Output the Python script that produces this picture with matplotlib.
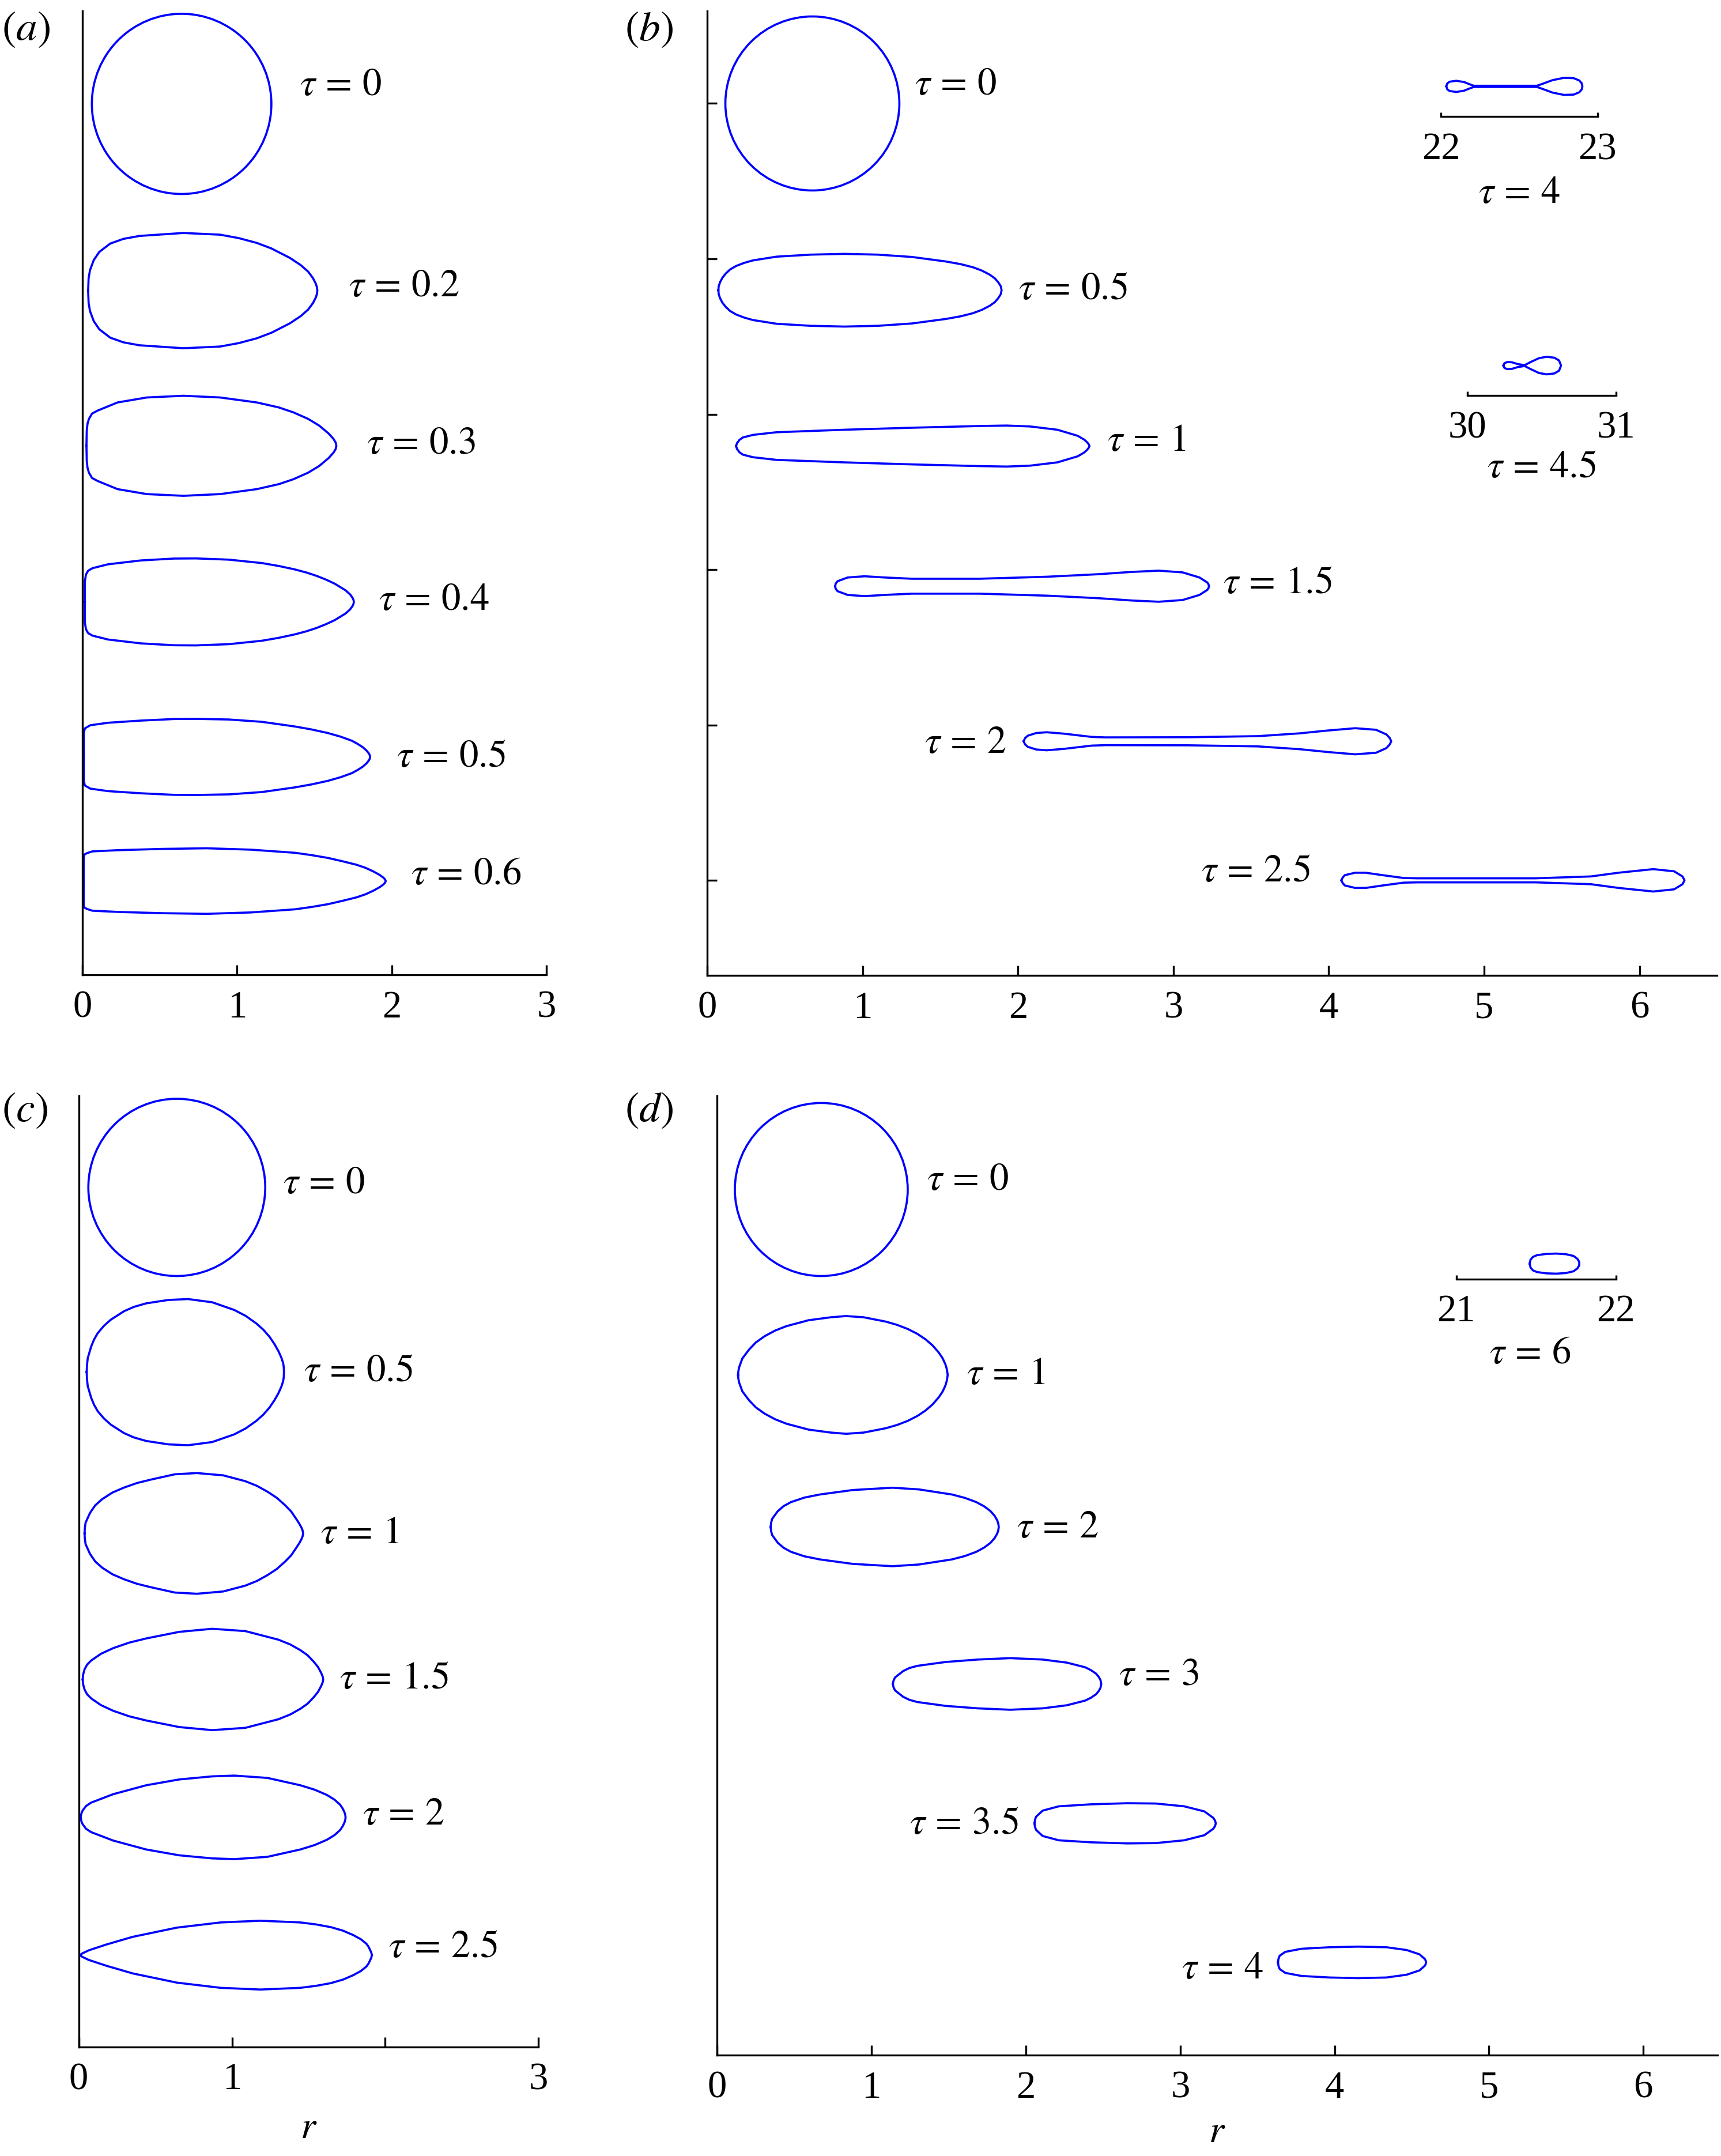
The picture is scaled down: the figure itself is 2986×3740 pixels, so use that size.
import numpy as np
import matplotlib
matplotlib.use("Agg")
import matplotlib.pyplot as plt
from matplotlib.patches import Circle

plt.rcParams['font.family'] = ['Liberation Serif', 'DejaVu Serif']
plt.rcParams['mathtext.fontset'] = 'stix'
plt.rcParams['font.size'] = 20

# ---- data: upper half of each drop outline (r, half-width) ----
# panel (a)
A_TAU = ["0", "0.2", "0.3", "0.4", "0.5", "0.6"]
A_CIRCLE = [0.641, 5.597, 0.580]          # r centre, z centre, radius (tau = 0)
A_ZC = [4.395, 3.396, 2.391, 1.393, 0.594]
A_R = [
    [0.037, 0.040, 0.049, 0.073, 0.109, 0.180, 0.265, 0.369, 0.653, 0.890, 1.010, 1.127, 1.222, 1.340, 1.411, 1.459, 1.490, 1.508, 1.516, 1.518],
    [0.026, 0.028, 0.033, 0.042, 0.062, 0.097, 0.227, 0.416, 0.653, 0.890, 1.127, 1.269, 1.364, 1.459, 1.530, 1.590, 1.622, 1.637, 1.641],
    [0.016, 0.016, 0.023, 0.037, 0.065, 0.165, 0.378, 0.591, 0.733, 0.947, 1.160, 1.270, 1.373, 1.448, 1.515, 1.575, 1.629, 1.700, 1.730, 1.746, 1.752, 1.754],
    [0.009, 0.009, 0.016, 0.051, 0.165, 0.378, 0.591, 0.733, 0.947, 1.160, 1.373, 1.480, 1.586, 1.670, 1.742, 1.780, 1.810, 1.835, 1.850, 1.857, 1.859],
    [0.008, 0.008, 0.012, 0.030, 0.065, 0.236, 0.520, 0.804, 1.089, 1.373, 1.480, 1.586, 1.682, 1.771, 1.830, 1.880, 1.920, 1.945, 1.956, 1.960],
]
A_H = [
    [0.0, 0.079, 0.132, 0.196, 0.249, 0.303, 0.333, 0.352, 0.371, 0.360, 0.338, 0.307, 0.271, 0.211, 0.164, 0.122, 0.080, 0.045, 0.020, 0.0],
    [0.0, 0.098, 0.142, 0.173, 0.207, 0.226, 0.279, 0.311, 0.322, 0.311, 0.279, 0.247, 0.215, 0.173, 0.130, 0.080, 0.045, 0.020, 0.0],
    [0.0, 0.134, 0.176, 0.201, 0.217, 0.242, 0.267, 0.279, 0.280, 0.272, 0.250, 0.231, 0.209, 0.189, 0.167, 0.143, 0.118, 0.075, 0.048, 0.026, 0.012, 0.0],
    [0.0, 0.154, 0.184, 0.204, 0.220, 0.234, 0.244, 0.245, 0.241, 0.226, 0.196, 0.177, 0.154, 0.130, 0.104, 0.083, 0.064, 0.042, 0.024, 0.011, 0.0],
    [0.0, 0.150, 0.170, 0.180, 0.191, 0.199, 0.207, 0.211, 0.202, 0.182, 0.167, 0.149, 0.127, 0.105, 0.085, 0.062, 0.040, 0.022, 0.010, 0.0],
]
A_LAB_R = [1.406, 1.719, 1.838, 1.913, 2.029, 2.122]
A_LAB_Z = [5.715, 4.421, 3.408, 2.400, 1.390, 0.633]

# panel (b)
B_TAU = ["0", "0.5", "1", "1.5", "2", "2.5"]
B_CIRCLE = [0.676, 5.0, 0.560]
B_ZC = [3.798, 2.795, 1.893, 0.895, 0.0]
B_R = [
    [0.071, 0.073, 0.082, 0.098, 0.119, 0.147, 0.185, 0.237, 0.294, 0.446, 0.664, 0.882, 1.099, 1.317, 1.535, 1.630, 1.709, 1.768, 1.818, 1.850, 1.872, 1.889, 1.894],
    [0.185, 0.191, 0.207, 0.228, 0.294, 0.446, 0.881, 1.317, 1.752, 1.927, 2.079, 2.253, 2.384, 2.425, 2.445, 2.455, 2.460],
    [0.823, 0.826, 0.838, 0.903, 1.012, 1.143, 1.317, 1.752, 2.188, 2.514, 2.732, 2.906, 3.059, 3.168, 3.218, 3.226, 3.229],
    [2.036, 2.045, 2.063, 2.117, 2.184, 2.295, 2.474, 2.563, 3.099, 3.545, 3.813, 3.991, 4.170, 4.304, 4.371, 4.393, 4.402],
    [4.081, 4.090, 4.103, 4.170, 4.237, 4.348, 4.482, 4.572, 5.330, 5.687, 5.866, 6.089, 6.223, 6.277, 6.290],
]
B_H = [
    [0.0, 0.025, 0.052, 0.082, 0.108, 0.134, 0.156, 0.176, 0.192, 0.216, 0.229, 0.234, 0.229, 0.214, 0.185, 0.168, 0.148, 0.126, 0.100, 0.077, 0.052, 0.025, 0.0],
    [0.0, 0.019, 0.040, 0.055, 0.072, 0.089, 0.105, 0.118, 0.129, 0.132, 0.126, 0.105, 0.066, 0.042, 0.024, 0.011, 0.0],
    [0.0, 0.016, 0.032, 0.056, 0.064, 0.056, 0.048, 0.048, 0.061, 0.077, 0.092, 0.100, 0.089, 0.056, 0.024, 0.012, 0.0],
    [0.0, 0.020, 0.036, 0.053, 0.058, 0.049, 0.028, 0.025, 0.026, 0.033, 0.051, 0.069, 0.084, 0.074, 0.044, 0.020, 0.0],
    [0.0, 0.018, 0.033, 0.049, 0.049, 0.033, 0.015, 0.013, 0.013, 0.025, 0.049, 0.072, 0.058, 0.025, 0.0],
]
B_LAB_R = [1.335, 2.003, 2.575, 3.320, 1.925, 3.880]
B_LAB_Z = [5.117, 3.802, 2.827, 1.910, 0.881, 0.053]
B_LAB_HA = ["left", "left", "left", "left", "right", "right"]

# panel (b) insets: late times, far along r
B_INSET_TAU = ["4", "4.5"]
B_INSET_XLIM = [(22, 23), (30, 31)]
B_INSET_ZC = [0.195, 0.202]
B_INSET_R = [
    [22.034, 22.040, 22.055, 22.098, 22.147, 22.184, 22.209, 22.613, 22.650, 22.712, 22.785, 22.847, 22.883, 22.899, 22.903],
    [30.243, 30.250, 30.269, 30.301, 30.340, 30.386, 30.431, 30.483, 30.534, 30.586, 30.618, 30.631],
]
B_INSET_H = [
    [0.0, 0.019, 0.030, 0.036, 0.028, 0.013, 0.004, 0.004, 0.017, 0.040, 0.055, 0.053, 0.038, 0.019, 0.0],
    [0.0, 0.016, 0.024, 0.022, 0.010, 0.003, 0.026, 0.050, 0.059, 0.053, 0.034, 0.0],
]

# panel (c)
C_TAU = ["0", "0.5", "1", "1.5", "2", "2.5"]
C_CIRCLE = [0.640, 5.596, 0.577]
C_ZC = [4.393, 3.343, 2.392, 1.494, 0.597]
C_R = [
    [0.052, 0.054, 0.059, 0.081, 0.100, 0.124, 0.165, 0.210, 0.296, 0.360, 0.440, 0.584, 0.713, 0.871, 1.015, 1.090, 1.159, 1.205, 1.245, 1.277, 1.303, 1.322, 1.334, 1.338, 1.339],
    [0.038, 0.040, 0.045, 0.074, 0.108, 0.153, 0.220, 0.297, 0.380, 0.469, 0.627, 0.771, 0.943, 1.087, 1.162, 1.231, 1.292, 1.346, 1.386, 1.418, 1.440, 1.454, 1.461, 1.464],
    [0.026, 0.029, 0.038, 0.055, 0.081, 0.145, 0.225, 0.330, 0.440, 0.656, 0.871, 1.087, 1.303, 1.380, 1.446, 1.494, 1.533, 1.562, 1.583, 1.592, 1.595],
    [0.013, 0.017, 0.026, 0.048, 0.081, 0.225, 0.440, 0.656, 0.871, 1.015, 1.231, 1.446, 1.540, 1.619, 1.668, 1.705, 1.722, 1.734, 1.739, 1.741],
    [0.007, 0.025, 0.065, 0.180, 0.352, 0.640, 0.927, 1.186, 1.445, 1.548, 1.646, 1.725, 1.790, 1.840, 1.876, 1.890, 1.899, 1.908, 1.913],
]
C_H = [
    [0.0, 0.045, 0.091, 0.166, 0.212, 0.254, 0.302, 0.342, 0.397, 0.425, 0.448, 0.470, 0.476, 0.455, 0.405, 0.366, 0.317, 0.276, 0.230, 0.183, 0.137, 0.095, 0.058, 0.030, 0.0],
    [0.0, 0.035, 0.070, 0.134, 0.183, 0.223, 0.266, 0.299, 0.328, 0.350, 0.385, 0.393, 0.378, 0.340, 0.310, 0.272, 0.232, 0.184, 0.143, 0.096, 0.062, 0.036, 0.018, 0.0],
    [0.0, 0.032, 0.065, 0.097, 0.123, 0.167, 0.204, 0.240, 0.267, 0.310, 0.330, 0.315, 0.259, 0.228, 0.191, 0.157, 0.116, 0.080, 0.040, 0.018, 0.0],
    [0.0, 0.024, 0.045, 0.074, 0.096, 0.151, 0.209, 0.247, 0.267, 0.272, 0.257, 0.209, 0.180, 0.146, 0.116, 0.083, 0.058, 0.033, 0.016, 0.0],
    [0.0, 0.012, 0.031, 0.069, 0.119, 0.179, 0.213, 0.224, 0.213, 0.200, 0.182, 0.159, 0.131, 0.104, 0.075, 0.056, 0.038, 0.019, 0.0],
]
C_LAB_R = [1.334, 1.468, 1.579, 1.703, 1.853, 2.020]
C_LAB_Z = [5.620, 4.395, 3.343, 2.395, 1.509, 0.647]

# panel (d)
D_TAU = ["0", "1", "2", "3", "3.5", "4"]
D_CIRCLE = [0.674, 5.602, 0.560]
D_ZC = [4.402, 3.418, 2.402, 1.500, 0.600]
D_R = [
    [0.135, 0.137, 0.142, 0.163, 0.206, 0.250, 0.306, 0.375, 0.449, 0.592, 0.735, 0.835, 0.949, 1.092, 1.165, 1.235, 1.296, 1.350, 1.396, 1.435, 1.460, 1.478, 1.488, 1.493],
    [0.346, 0.349, 0.356, 0.392, 0.430, 0.478, 0.565, 0.664, 0.878, 1.135, 1.307, 1.521, 1.605, 1.678, 1.730, 1.771, 1.797, 1.814, 1.821, 1.824],
    [1.138, 1.142, 1.152, 1.204, 1.245, 1.296, 1.479, 1.689, 1.898, 2.108, 2.265, 2.383, 2.420, 2.454, 2.472, 2.483, 2.488],
    [2.056, 2.058, 2.066, 2.108, 2.213, 2.423, 2.658, 2.842, 3.025, 3.156, 3.214, 3.225, 3.230],
    [3.633, 3.636, 3.644, 3.680, 3.785, 3.969, 4.152, 4.335, 4.466, 4.550, 4.584, 4.590, 4.592],
]
D_H = [
    [0.0, 0.025, 0.050, 0.107, 0.164, 0.210, 0.250, 0.287, 0.316, 0.354, 0.373, 0.381, 0.373, 0.345, 0.324, 0.297, 0.266, 0.230, 0.190, 0.145, 0.108, 0.069, 0.035, 0.0],
    [0.0, 0.027, 0.053, 0.102, 0.135, 0.161, 0.190, 0.210, 0.239, 0.254, 0.243, 0.210, 0.188, 0.161, 0.133, 0.102, 0.072, 0.043, 0.021, 0.0],
    [0.0, 0.021, 0.042, 0.083, 0.103, 0.117, 0.142, 0.158, 0.167, 0.158, 0.138, 0.108, 0.090, 0.067, 0.045, 0.025, 0.0],
    [0.0, 0.022, 0.043, 0.082, 0.110, 0.123, 0.130, 0.128, 0.110, 0.077, 0.035, 0.018, 0.0],
    [0.0, 0.022, 0.043, 0.068, 0.088, 0.098, 0.102, 0.098, 0.080, 0.052, 0.022, 0.011, 0.0],
]
D_LAB_R = [1.357, 1.614, 1.940, 2.601, 1.951, 3.536]
D_LAB_Z = [5.661, 4.403, 3.410, 2.457, 1.494, 0.557]
D_LAB_HA = ["left", "left", "left", "left", "right", "right"]

D_INSET_TAU = "6"
D_INSET_XLIM = (21, 22)
D_INSET_ZC = 0.096
D_INSET_R = [21.460, 21.465, 21.480, 21.506, 21.566, 21.627, 21.687, 21.735, 21.759, 21.770, 21.771]
D_INSET_H = [0.0, 0.024, 0.042, 0.053, 0.061, 0.063, 0.059, 0.048, 0.030, 0.012, 0.0]

BLUE = '#0000ff'
LW = 1.1
FS = 20


def tau_label(t):
    return r'$\tau\,=\,%s$' % t


def draw_drop(ax, zc, r, h):
    # mirror the upper half about the drop's centre line and close the curve
    r = np.asarray(r)
    h = np.asarray(h)
    rr = np.concatenate([r, r[::-1]])
    zz = np.concatenate([zc + h, (zc - h)[::-1]])
    ax.plot(rr, zz, color=BLUE, lw=LW, solid_joinstyle='round')


def style_axes(ax, xlim, ylim, xticks, xticklabels):
    ax.set_xlim(*xlim)
    ax.set_ylim(*ylim)
    for s in ['top', 'right']:
        ax.spines[s].set_visible(False)
    for s in ['left', 'bottom']:
        ax.spines[s].set_linewidth(1.0)
    ax.set_xticks(xticks)
    ax.set_xticklabels(xticklabels)
    ax.tick_params(axis='x', direction='in', length=5, width=1.0, pad=8, labelsize=FS)
    ax.set_yticks([])
    ax.patch.set_alpha(0)


def draw_panel(ax, circle, zcs, rs, hs, taus, lab_r, lab_z, lab_ha=None):
    ax.add_patch(Circle((circle[0], circle[1]), circle[2], fill=False, ec=BLUE, lw=LW))
    for zc, r, h in zip(zcs, rs, hs):
        draw_drop(ax, zc, r, h)
    if lab_ha is None:
        lab_ha = ['left'] * len(taus)
    for t, x, y, ha in zip(taus, lab_r, lab_z, lab_ha):
        ax.text(x, y, tau_label(t), ha=ha, va='center', fontsize=FS)


def draw_inset(fig, rect, xlim, ylim, zc, r, h, tau, dx=0, dy=-38):
    ax = fig.add_axes(rect)
    ax.set_xlim(*xlim)
    ax.set_ylim(*ylim)
    for s in ['top', 'right', 'left']:
        ax.spines[s].set_visible(False)
    ax.spines['bottom'].set_linewidth(1.0)
    ax.set_xticks(list(xlim))
    ax.set_xticklabels([str(v) for v in xlim])
    ax.tick_params(axis='x', direction='in', length=2, width=1.0, pad=8, labelsize=FS)
    ax.set_yticks([])
    ax.patch.set_alpha(0)
    draw_drop(ax, zc, r, h)
    ax.annotate(tau_label(tau), xy=(0.5, 0), xycoords='axes fraction',
                xytext=(dx, dy), textcoords='offset points', ha='center', va='center', fontsize=FS)


fig = plt.figure(figsize=(2986 / 240, 3740 / 240), dpi=240)

# (a)
ax_a = fig.add_axes([0.04789, 0.54783, 0.26975, 0.44707])
style_axes(ax_a, (0, 3), (-0.01, 6.195), [0, 1, 2, 3], ['0', '1', '2', '3'])
draw_panel(ax_a, A_CIRCLE, A_ZC, A_R, A_H, A_TAU, A_LAB_R, A_LAB_Z)

# (b)
ax_b = fig.add_axes([0.41101, 0.54751, 0.58675, 0.44738])
style_axes(ax_b, (0, 6.5), (-0.613, 5.595), range(7), [str(i) for i in range(7)])
ax_b.set_yticks(range(6))
ax_b.set_yticklabels([])
ax_b.tick_params(axis='y', direction='in', length=5, width=1.0)
draw_panel(ax_b, B_CIRCLE, B_ZC, B_R, B_H, B_TAU, B_LAB_R, B_LAB_Z, B_LAB_HA)
draw_inset(fig, [0.8373, 0.9459, 0.0910, 0.0216], B_INSET_XLIM[0], (0, 0.3),
           B_INSET_ZC[0], B_INSET_R[0], B_INSET_H[0], B_INSET_TAU[0], dy=-40)
draw_inset(fig, [0.8526, 0.8165, 0.0863, 0.0207], B_INSET_XLIM[1], (0, 0.3),
           B_INSET_ZC[1], B_INSET_R[1], B_INSET_H[1], B_INSET_TAU[1], dy=-37.5)

# (c)
ax_c = fig.add_axes([0.04573, 0.05064, 0.26720, 0.44107])
style_axes(ax_c, (0, 3), (0, 6.192), [0, 1, 2, 3], ['0', '1', '', '3'])
draw_panel(ax_c, C_CIRCLE, C_ZC, C_R, C_H, C_TAU, C_LAB_R, C_LAB_Z)
ax_c.set_xlabel(r'$r$', fontsize=FS, labelpad=7)

# (d)
ax_d = fig.add_axes([0.41676, 0.04681, 0.58117, 0.44490])
style_axes(ax_d, (0, 6.48), (0, 6.208), range(7), [str(i) for i in range(7)])
draw_panel(ax_d, D_CIRCLE, D_ZC, D_R, D_H, D_TAU, D_LAB_R, D_LAB_Z, D_LAB_HA)
ax_d.set_xlabel(r'$r$', fontsize=FS, labelpad=5)
draw_inset(fig, [0.8462, 0.4068, 0.0927, 0.0148], D_INSET_XLIM, (0, 0.2),
           D_INSET_ZC, D_INSET_R, D_INSET_H, D_INSET_TAU, dx=-3, dy=-39)

# panel letters
for x, y, s in [(0.001, 0.986, '(a)'), (0.363, 0.986, '(b)'),
                (0.001, 0.4847, '(c)'), (0.363, 0.4847, '(d)')]:
    fig.text(x, y, r'$%s$' % s, ha='left', va='center', fontsize=22)

fig.savefig('out.png', dpi=240)
